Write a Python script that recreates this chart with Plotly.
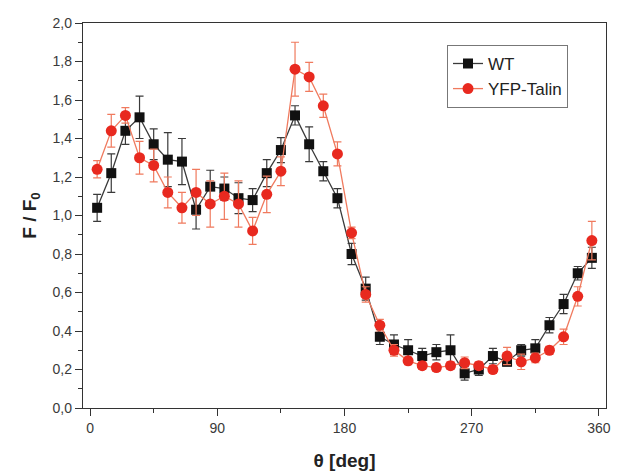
import plotly.graph_objects as go

# Angle bins (deg)
theta = [5, 15, 25, 35, 45, 55, 65, 75, 85, 95, 105, 115,
         125, 135, 145, 155, 165, 175, 185, 195, 205, 215, 225, 235,
         245, 255, 265, 275, 285, 295, 305, 315, 325, 335, 345, 355]

# Normalised fluorescence F/F0 and error
wt = [1.04, 1.22, 1.44, 1.51, 1.37, 1.29, 1.28, 1.03, 1.15, 1.14, 1.09, 1.08,
      1.22, 1.34, 1.52, 1.37, 1.23, 1.09, 0.80, 0.62, 0.37, 0.33, 0.30, 0.27,
      0.29, 0.30, 0.18, 0.20, 0.27, 0.24, 0.30, 0.31, 0.43, 0.54, 0.70, 0.78]
wt_err = [0.07, 0.10, 0.07, 0.11, 0.08, 0.14, 0.12, 0.10, 0.085, 0.06, 0.08, 0.06,
          0.07, 0.065, 0.05, 0.09, 0.05, 0.05, 0.055, 0.06, 0.04, 0.05, 0.055, 0.04,
          0.04, 0.08, 0.035, 0.03, 0.04, 0.02, 0.03, 0.045, 0.04, 0.05, 0.035, 0.055]

yfp = [1.24, 1.44, 1.52, 1.30, 1.26, 1.12, 1.04, 1.12, 1.06, 1.10, 1.06, 0.92,
       1.11, 1.23, 1.76, 1.72, 1.57, 1.32, 0.91, 0.59, 0.43, 0.30, 0.245, 0.22,
       0.21, 0.22, 0.235, 0.22, 0.20, 0.27, 0.24, 0.26, 0.30, 0.37, 0.58, 0.87]
yfp_err = [0.045, 0.085, 0.04, 0.085, 0.085, 0.08, 0.08, 0.12, 0.12, 0.12, 0.12, 0.07,
           0.095, 0.075, 0.14, 0.075, 0.06, 0.062, 0.03, 0.04, 0.03, 0.03, 0.02, 0.02,
           0.02, 0.02, 0.03, 0.02, 0.02, 0.045, 0.04, 0.025, 0.02, 0.04, 0.05, 0.10]

x_ticks = [0, 90, 180, 270, 360]

FONT = "Liberation Sans, Arial, sans-serif"

fig = go.Figure()

fig.add_trace(go.Scatter(
    x=theta, y=wt, name="WT", mode="lines+markers",
    line=dict(color="#3a3a3a", width=1.3),
    marker=dict(symbol="square", size=10, color="#111111"),
    error_y=dict(type="data", array=wt_err, color="#3a3a3a", thickness=1.2, width=4),
))

fig.add_trace(go.Scatter(
    x=theta, y=yfp, name="YFP-Talin", mode="lines+markers",
    line=dict(color="#f07a5e", width=1.3),
    marker=dict(symbol="circle", size=11, color="#e8291f"),
    error_y=dict(type="data", array=yfp_err, color="#f07a5e", thickness=1.2, width=4),
))

axis_font = dict(family=FONT, size=14, color="#3a3a3a")
title_font = dict(family=FONT, size=19, color="#222222")

fig.update_layout(
    width=619, height=475,
    margin=dict(l=83, r=8, t=23, b=64),
    paper_bgcolor="white", plot_bgcolor="white",
    separators=",.",
    showlegend=True,
    legend=dict(
        x=0.696, y=0.943, xanchor="left", yanchor="top",
        bgcolor="white", bordercolor="#777777", borderwidth=1,
        font=dict(family=FONT, size=17, color="#222222"),
        tracegroupgap=0,
    ),
    xaxis=dict(
        range=[-5, 365], tickvals=x_ticks, ticks="outside", ticklen=7, tickwidth=1.3,
        tickcolor="#333333", showline=True, linecolor="#333333", linewidth=1.3,
        mirror=True, showgrid=False, zeroline=False, tickfont=axis_font,
        minor=dict(tickvals=[45, 135, 225, 315], ticks="outside", ticklen=4,
                   tickcolor="#333333", tickwidth=1.2),
        title=dict(text="<b>θ [deg]</b>", font=title_font, standoff=18),
    ),
    yaxis=dict(
        range=[0, 2.0], dtick=0.2, tick0=0, tickformat=".1f", ticks="outside", ticklen=7,
        tickwidth=1.3, tickcolor="#333333", showline=True, linecolor="#333333", linewidth=1.3,
        mirror=True, showgrid=False, zeroline=False, tickfont=axis_font,
        minor=dict(dtick=0.1, ticks="outside", ticklen=4, tickcolor="#333333", tickwidth=1.2),
        title=dict(text="<b>F / F<sub>0</sub></b>", font=title_font, standoff=10),
    ),
)

fig.write_html("out.html")
